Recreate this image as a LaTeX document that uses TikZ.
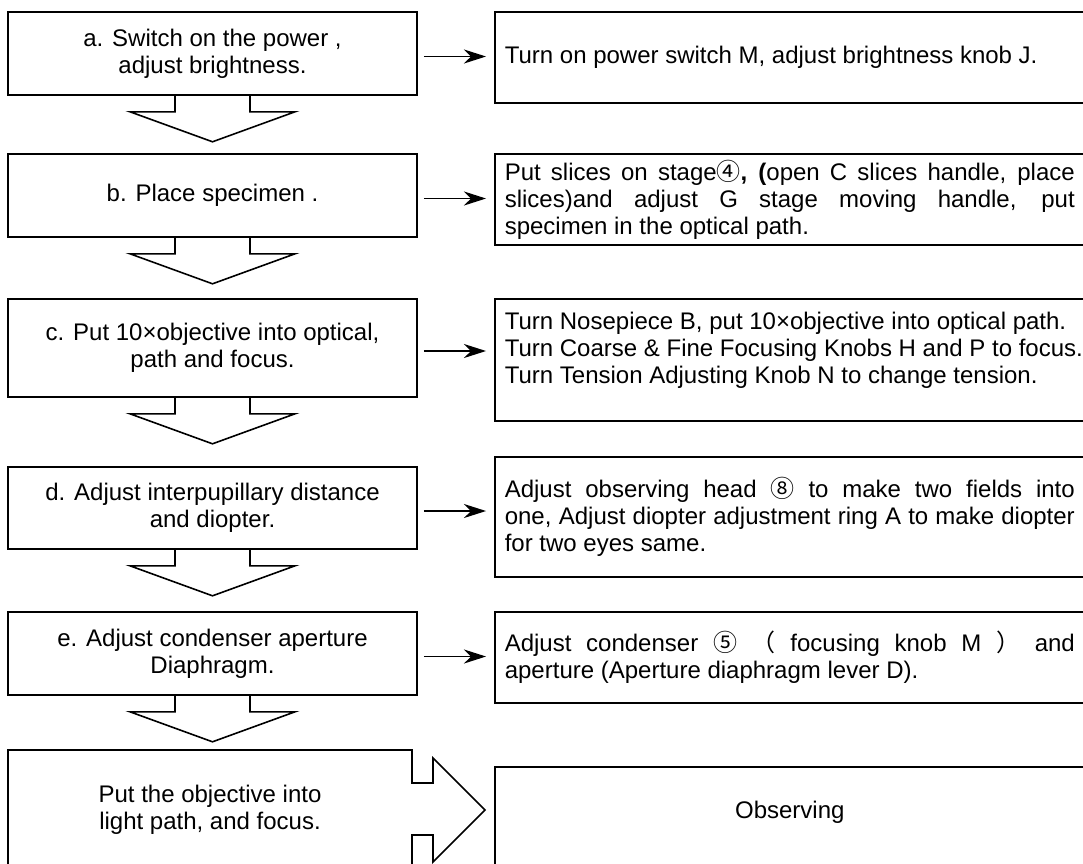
\documentclass[tikz,border=0pt]{standalone}
\usepackage{fontspec}
\setmainfont{Liberation Sans}
\newfontfamily\cjkfont{Noto Sans CJK SC}
\usetikzlibrary{arrows.meta}
\newcommand\stepfont{\fontsize{24}{27}\selectfont}
\newcommand\infofont{\fontsize{24}{27}\selectfont\tolerance=9999\relax}
\tikzset{
    stepbox/.style={draw, line width=1.6pt, minimum width=409pt, align=center, inner sep=4pt, font=\stepfont},
    infobox/.style={draw, line width=1.6pt, anchor=west, text width=570pt, inner xsep=10pt, inner ysep=4pt, align=justify, font=\infofont},
    flow/.style={-{Stealth[length=22pt,width=14pt,inset=7pt]}, line width=1.3pt, shorten <=6pt, shorten >=8pt},
    hollow/.style={line width=1.6pt, line join=miter}
}

\begin{document}
\begin{tikzpicture}[x=1pt, y=-1pt]
\useasboundingbox (0,0) rectangle (1083,863);

% steps
\node[stepbox, minimum height=83pt] (sa) at (212.5,53.5) {a. Switch on the power ,\\ adjust brightness.};
\node[stepbox, minimum height=83pt] (sb) at (212.5,195.5) {b. Place specimen .};
\node[stepbox, minimum height=98pt] (sc) at (212.5,348) {c. Put 10×objective into optical,\\ path and focus.};
\node[stepbox, minimum height=82pt] (sd) at (212.5,508) {d. Adjust interpupillary distance\\ and diopter.};
\node[stepbox, minimum height=83pt] (se) at (212.5,653.5) {e. Adjust condenser aperture\\ Diaphragm.};
\node[font=\stepfont, align=center] (sf) at (210,810) {Put the objective into\\ light path, and focus.};

% what to do
\node[infobox, minimum height=91pt] (ra) at (494,57.5) {Turn on power switch M, adjust brightness knob J.};
\node[infobox, minimum height=91pt] (rb) at (494,199.5) {Put slices on stage{\cjkfont ④}{\bfseries,} {\bfseries(}open C slices handle, place\linebreak slices)and adjust G stage moving handle, put\linebreak specimen in the optical path.};
\node[infobox, minimum height=122pt, text width=600pt, align=flush left, text depth=79pt] (rc) at (494,360) {Turn Nosepiece B, put 10×objective into optical path.\\ Turn Coarse \& Fine Focusing Knobs H and P to focus.\\ Turn Tension Adjusting Knob N to change tension.};
\node[infobox, minimum height=120pt] (rd) at (494,517) {Adjust observing head {\cjkfont ⑧} to make two fields into\linebreak one, Adjust diopter adjustment ring A to make diopter\linebreak for two eyes same.};
\node[infobox, minimum height=91pt] (re) at (494,657.5) {Adjust condenser {\cjkfont ⑤} {\cjkfont （} focusing knob M {\cjkfont ）} and\linebreak aperture (Aperture diaphragm lever D).};
\node[infobox, minimum height=103pt, align=center, text depth=17pt] (ro) at (494,818.5) {Observing};

\foreach \l/\r in {sa/ra,sb/rb,sc/rc,sd/rd,se/re}
    \draw[flow] ([yshift=-3pt]\l.east) -- ([yshift=-3pt]\l.east -| \r.west);

% big hollow arrows down
\foreach \n in {sa,sb,sc,sd,se}
    \draw[hollow] ([xshift=-37.5pt]\n.south) -- ++(0,16) -- ++(-45,0) -- ++(82.5,30) -- ++(82.5,-30) -- ++(-45,0) -- ++(0,-16);

% last step runs into the arrow
\draw[hollow] (412,875) -- (412,835) -- (433,835) -- (433,862) -- (485,810) -- (433,758) -- (433,783) -- (412,783) -- (412,750) -- (8,750) -- (8,875);
%\draw[hollow] (8,875) -- (412,875);

\end{tikzpicture}
\end{document}
